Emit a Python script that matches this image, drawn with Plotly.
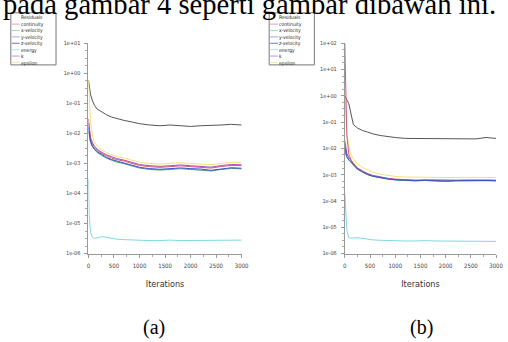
import plotly.graph_objects as go

W, H = 508, 342

iterations = [0, 15, 40, 80, 120, 170, 250, 350, 450, 550, 700, 850, 1000,
              1200, 1400, 1600, 1800, 2000, 2200, 2400, 2600, 2800, 3000]

series_names = ["continuity", "x-velocity", "y-velocity", "z-velocity", "energy", "k", "epsilon"]
series_colors = ["#555555", "#d4587a", "#48a070", "#4050c8", "#80d8e2", "#b048b8", "#f2e274"]
legend_colors = ["#e8a0b8", "#a8dcb0", "#a0a8e8", "#7078c0", "#a8e4ec", "#c890d0", "#f0ec9c"]

# panel (a)
a_continuity = [0.6, 0.35, 0.2, 0.12, 0.085, 0.065, 0.052, 0.042, 0.035, 0.031, 0.027, 0.024, 0.021,
                0.019, 0.018, 0.019, 0.018, 0.017, 0.018, 0.018, 0.019, 0.020, 0.019]
a_xvel = [2.2e-2, 1.2e-2, 6.5e-3, 4.3e-3, 3.4e-3, 2.8e-3, 2.2e-3, 1.8e-3, 1.5e-3, 1.35e-3, 1.2e-3, 1.0e-3, 8.5e-4,
          7.8e-4, 7.4e-4, 7.8e-4, 8.3e-4, 7.8e-4, 7.5e-4, 7.0e-4, 7.9e-4, 8.6e-4, 8.4e-4]
a_yvel = [1.2e-2, 8e-3, 5e-3, 3.5e-3, 2.8e-3, 2.3e-3, 1.9e-3, 1.5e-3, 1.28e-3, 1.12e-3, 9.8e-4, 8.4e-4, 7.0e-4,
          6.3e-4, 6.0e-4, 6.3e-4, 6.7e-4, 6.3e-4, 6.1e-4, 5.6e-4, 6.3e-4, 6.8e-4, 6.6e-4]
a_zvel = [1.6e-2, 9e-3, 5.5e-3, 3.8e-3, 3.0e-3, 2.5e-3, 2.0e-3, 1.6e-3, 1.35e-3, 1.2e-3, 1.04e-3, 8.9e-4, 7.4e-4,
          6.7e-4, 6.4e-4, 6.7e-4, 7.1e-4, 6.7e-4, 6.5e-4, 5.9e-4, 6.7e-4, 7.2e-4, 6.9e-4]
a_energy = [3e-4, 2e-5, 5e-6, 3.5e-6, 3.2e-6, 3.3e-6, 3.6e-6, 3.5e-6, 3.2e-6, 3.0e-6, 2.9e-6, 2.8e-6, 2.8e-6,
            2.7e-6, 2.7e-6, 2.8e-6, 2.7e-6, 2.7e-6, 2.8e-6, 2.7e-6, 2.7e-6, 2.8e-6, 2.8e-6]
a_k = [3.0e-2, 1.5e-2, 7.5e-3, 4.8e-3, 3.7e-3, 3.0e-3, 2.4e-3, 1.95e-3, 1.65e-3, 1.45e-3, 1.28e-3, 1.1e-3, 9.2e-4,
       8.4e-4, 8.0e-4, 8.4e-4, 8.9e-4, 8.4e-4, 8.1e-4, 7.5e-4, 8.5e-4, 9.2e-4, 9.0e-4]
a_epsilon = [6e-1, 1.2e-1, 2.5e-2, 8e-3, 5e-3, 3.8e-3, 2.9e-3, 2.3e-3, 1.95e-3, 1.7e-3, 1.5e-3, 1.3e-3, 1.1e-3,
             1.0e-3, 9.5e-4, 1.0e-3, 1.06e-3, 1.0e-3, 9.7e-4, 9.0e-4, 1.0e-3, 1.1e-3, 1.08e-3]

# panel (b)
b_continuity = [1.0, 0.9, 0.7, 0.5, 0.2, 0.08, 0.06, 0.048, 0.042, 0.036, 0.031, 0.028, 0.026,
                0.024, 0.024, 0.023, 0.024, 0.023, 0.023, 0.024, 0.023, 0.026, 0.024]
b_xvel = [100, 2.0, 3e-2, 6e-3, 3.8e-3, 2.6e-3, 1.7e-3, 1.3e-3, 1.05e-3, 9e-4, 7.8e-4, 7.0e-4, 6.5e-4,
          6.2e-4, 6.0e-4, 6.2e-4, 6.0e-4, 5.8e-4, 6.0e-4, 6.1e-4, 5.9e-4, 6.1e-4, 6.0e-4]
b_yvel = [8e-3, 6e-3, 4.5e-3, 3.6e-3, 3.0e-3, 2.3e-3, 1.6e-3, 1.25e-3, 1.0e-3, 8.7e-4, 7.5e-4, 6.8e-4, 6.3e-4,
          6.0e-4, 5.8e-4, 6.0e-4, 5.8e-4, 5.6e-4, 5.8e-4, 5.9e-4, 5.7e-4, 5.9e-4, 5.8e-4]
b_zvel = [1.2e-2, 8e-3, 5e-3, 3.8e-3, 3.1e-3, 2.4e-3, 1.65e-3, 1.28e-3, 1.02e-3, 8.8e-4, 7.6e-4, 6.9e-4, 6.4e-4,
          6.1e-4, 5.9e-4, 6.1e-4, 5.9e-4, 5.7e-4, 5.9e-4, 6.0e-4, 5.8e-4, 6.0e-4, 5.9e-4]
b_energy = [2e-4, 3e-5, 8e-6, 4e-6, 3.8e-6, 3.9e-6, 4.0e-6, 3.8e-6, 3.5e-6, 3.3e-6, 3.2e-6, 3.1e-6, 3.1e-6,
            3.0e-6, 3.0e-6, 3.1e-6, 3.0e-6, 3.0e-6, 2.9e-6, 3.0e-6, 3.0e-6, 2.9e-6, 2.9e-6]
b_k = [2e-2, 1.2e-2, 6.5e-3, 4.5e-3, 3.5e-3, 2.7e-3, 1.8e-3, 1.38e-3, 1.1e-3, 9.5e-4, 8.2e-4, 7.3e-4, 6.8e-4,
       6.4e-4, 6.2e-4, 6.4e-4, 6.2e-4, 6.0e-4, 6.2e-4, 6.3e-4, 6.1e-4, 6.3e-4, 6.2e-4]
b_epsilon = [1.0, 3e-1, 4e-2, 1.2e-2, 6e-3, 4e-3, 2.6e-3, 1.9e-3, 1.5e-3, 1.25e-3, 1.05e-3, 9.3e-4, 8.6e-4,
             8.1e-4, 7.8e-4, 8.0e-4, 7.8e-4, 7.6e-4, 7.8e-4, 7.9e-4, 7.7e-4, 7.9e-4, 7.8e-4]

panel_a = [a_continuity, a_xvel, a_yvel, a_zvel, a_energy, a_k, a_epsilon]
panel_b = [b_continuity, b_xvel, b_yvel, b_zvel, b_energy, b_k, b_epsilon]

x_ticks = [0, 500, 1000, 1500, 2000, 2500, 3000]
a_ytick_exps = [1, 0, -1, -2, -3, -4, -5, -6]
b_ytick_exps = [2, 1, 0, -1, -2, -3, -4, -5, -6]

caption_text = "pada gambar 4 seperti gambar dibawah ini."
panel_labels = ["(a)", "(b)"]
legend_title = "Residuals"

SANS = "Liberation Sans Narrow, DejaVu Sans Condensed, Arial Narrow, Liberation Sans"


def px(x):
    return x / W


def py(y):
    return 1 - y / H


fig = go.Figure()

order = [0, 6, 5, 1, 2, 3, 4]
for axis_suffix, data in [("", panel_a), ("2", panel_b)]:
    for i in order:
        fig.add_trace(go.Scatter(
            x=iterations, y=data[i], mode="lines", name=series_names[i],
            line=dict(color=series_colors[i], width=1),
            xaxis="x" + axis_suffix, yaxis="y" + axis_suffix, showlegend=False))


def fmt(e):
    return "1e%+03d" % e


ydom = [py(255), py(41)]
common_x = dict(range=[0, 3000], showgrid=False, zeroline=False, showline=True, linecolor="#999999",
                linewidth=1, ticks="outside", ticklen=3, tickcolor="#999999", tickvals=x_ticks,
                ticktext=[str(v) for v in x_ticks], tickfont=dict(family=SANS, size=6, color="#444444"),
                ticklabelstandoff=3,
                minor=dict(ticks="outside", ticklen=2, tickcolor="#aaaaaa", dtick=250),
                title=dict(text="Iterations", font=dict(family=SANS, size=9, color="#333333"), standoff=12))
common_y = dict(type="log", showgrid=False, zeroline=False, showline=True, linecolor="#999999",
                linewidth=1, ticks="outside", ticklen=3, tickcolor="#999999", ticklabelstandoff=3,
                tickfont=dict(family=SANS, size=5.5, color="#444444"))


def minor_vals(exps):
    vals = []
    for e in exps[1:]:
        for f in (0.25, 0.5, 0.75):
            vals.append(10 ** (e + f))
    return vals


fig.update_layout(
    width=W, height=H, margin=dict(l=0, r=0, t=0, b=0),
    paper_bgcolor="white", plot_bgcolor="white", showlegend=False,
    xaxis=dict(domain=[px(88), px(244)], anchor="y", **common_x),
    yaxis=dict(domain=ydom, anchor="x", range=[-6, 1],
               tickvals=[10 ** e for e in a_ytick_exps], ticktext=[fmt(e) for e in a_ytick_exps],
               minor=dict(ticks="outside", ticklen=2, tickcolor="#aaaaaa", tickvals=minor_vals(a_ytick_exps)),
               **common_y),
    xaxis2=dict(domain=[px(349), px(503)], anchor="y2", **common_x),
    yaxis2=dict(domain=ydom, anchor="x2", range=[-6, 2],
                tickvals=[10 ** e for e in b_ytick_exps], ticktext=[fmt(e) for e in b_ytick_exps],
                minor=dict(ticks="outside", ticklen=2, tickcolor="#aaaaaa", tickvals=minor_vals(b_ytick_exps)),
                **common_y),
)

annotations = [
    dict(text=caption_text, x=px(-1), y=py(19), xref="paper", yref="paper", xanchor="left", yanchor="bottom",
         showarrow=False, font=dict(family="Liberation Serif, Times New Roman, serif", size=28.6, color="black")),
    dict(text=panel_labels[0], x=px(155), y=py(330), xref="paper", yref="paper", xanchor="center",
         yanchor="middle", showarrow=False, font=dict(family="Liberation Serif, serif", size=20, color="black")),
    dict(text=panel_labels[1], x=px(427), y=py(330), xref="paper", yref="paper", xanchor="center",
         yanchor="middle", showarrow=False, font=dict(family="Liberation Serif, serif", size=20, color="black")),
]
shapes = []

# Fluent-style residual legend box: one multi-line text block per panel
legend_block = "<br>".join([legend_title] + series_names)
row_h = 6.5
for lx in (9, 272):
    shapes.append(dict(type="rect", xref="paper", yref="paper", x0=px(lx), x1=px(lx + 46),
                       y0=py(63), y1=py(10), line=dict(color="#777777", width=1), fillcolor="white"))
    annotations.append(dict(text=legend_block, x=px(lx + 9), y=py(10.5), xref="paper", yref="paper",
                            xanchor="left", yanchor="top", align="left", showarrow=False, borderpad=0,
                            font=dict(family=SANS, size=5, color="#222222")))
    for i, name in enumerate(series_names):
        yy = 14 + (i + 1) * row_h
        shapes.append(dict(type="line", xref="paper", yref="paper", x0=px(lx + 1), x1=px(lx + 9),
                           y0=py(yy + 1), y1=py(yy + 1), line=dict(color=legend_colors[i], width=1)))

fig.update_layout(annotations=annotations, shapes=shapes)
fig.write_html("out.html")
